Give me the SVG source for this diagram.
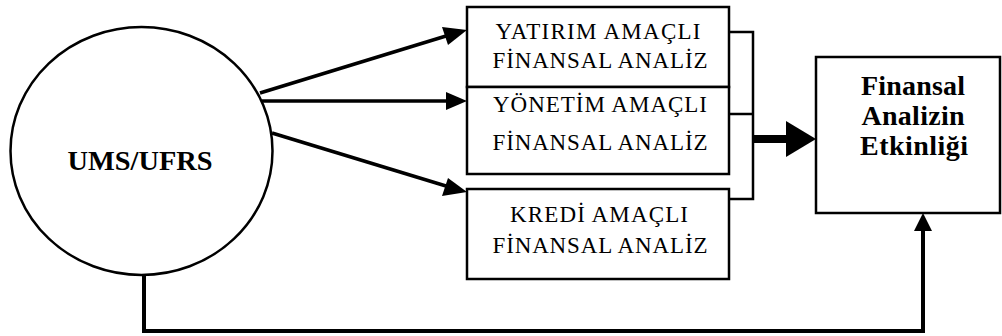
<svg xmlns="http://www.w3.org/2000/svg" width="1002" height="336" viewBox="0 0 1002 336">
<style>
.box{fill:#fff;stroke:#000;stroke-width:2.5}
.t{font-family:"Liberation Serif","Times New Roman",serif;font-size:23px;text-anchor:middle;fill:#000}
.b{font-family:"Liberation Serif","Times New Roman",serif;font-weight:bold;font-size:28px;text-anchor:middle;fill:#000}
.c{fill:none;stroke:#000}
</style>
<rect width="1002" height="336" fill="#fff"/>
<g id="connectors">
<line class="c" stroke-width="3.5" x1="260" y1="93" x2="446" y2="36"/>
<path d="M467,30 L442,27 L448,45 Z" fill="#000"/>
<line class="c" stroke-width="3.5" x1="262" y1="101" x2="446" y2="101"/>
<path d="M467,101 L446,92 L446,110 Z" fill="#000"/>
<line class="c" stroke-width="3.5" x1="272" y1="133" x2="446" y2="186"/>
<path d="M467,192 L448,178 L442,196 Z" fill="#000"/>
<polyline class="c" stroke-width="2.5" points="729,32 753,32 753,199 729,199"/>
<line class="c" stroke-width="2.5" x1="729" y1="114" x2="753" y2="114"/>
<line class="c" stroke-width="8" x1="753" y1="139" x2="788" y2="139"/>
<path d="M816,139 L786,121 L786,157 Z" fill="#000"/>
<polyline class="c" stroke-width="4" points="144,275 144,331 923,331 923,228"/>
<path d="M923,213 L914,231 L932,231 Z" fill="#000"/>
</g>
<g id="ums">
<ellipse cx="141.5" cy="151" rx="131" ry="124" fill="#fff" stroke="#000" stroke-width="2.5"/>
<text class="b" x="140" y="170" textLength="145" lengthAdjust="spacingAndGlyphs">UMS/UFRS</text>
</g>
<g id="yatirim">
<rect class="box" x="467" y="7" width="262" height="80"/>
<text class="t" x="598" y="39" textLength="205">YATIRIM AMAÇLI</text>
<text class="t" x="600" y="68" textLength="215">FİNANSAL ANALİZ</text>
</g>
<g id="yonetim">
<rect class="box" x="467" y="87" width="262" height="87"/>
<text class="t" x="600" y="112" textLength="214">YÖNETİM AMAÇLI</text>
<text class="t" x="600" y="150" textLength="215">FİNANSAL ANALİZ</text>
</g>
<g id="kredi">
<rect class="box" x="467" y="189" width="262" height="90"/>
<text class="t" x="599" y="222" textLength="178">KREDİ AMAÇLI</text>
<text class="t" x="600" y="253" textLength="215">FİNANSAL ANALİZ</text>
</g>
<g id="etkinlik">
<rect class="box" x="816" y="57" width="184" height="156"/>
<text class="b" x="913" y="95" textLength="104">Finansal</text>
<text class="b" x="913" y="125" textLength="103">Analizin</text>
<text class="b" x="914" y="155" textLength="108">Etkinliği</text>
</g>
</svg>
